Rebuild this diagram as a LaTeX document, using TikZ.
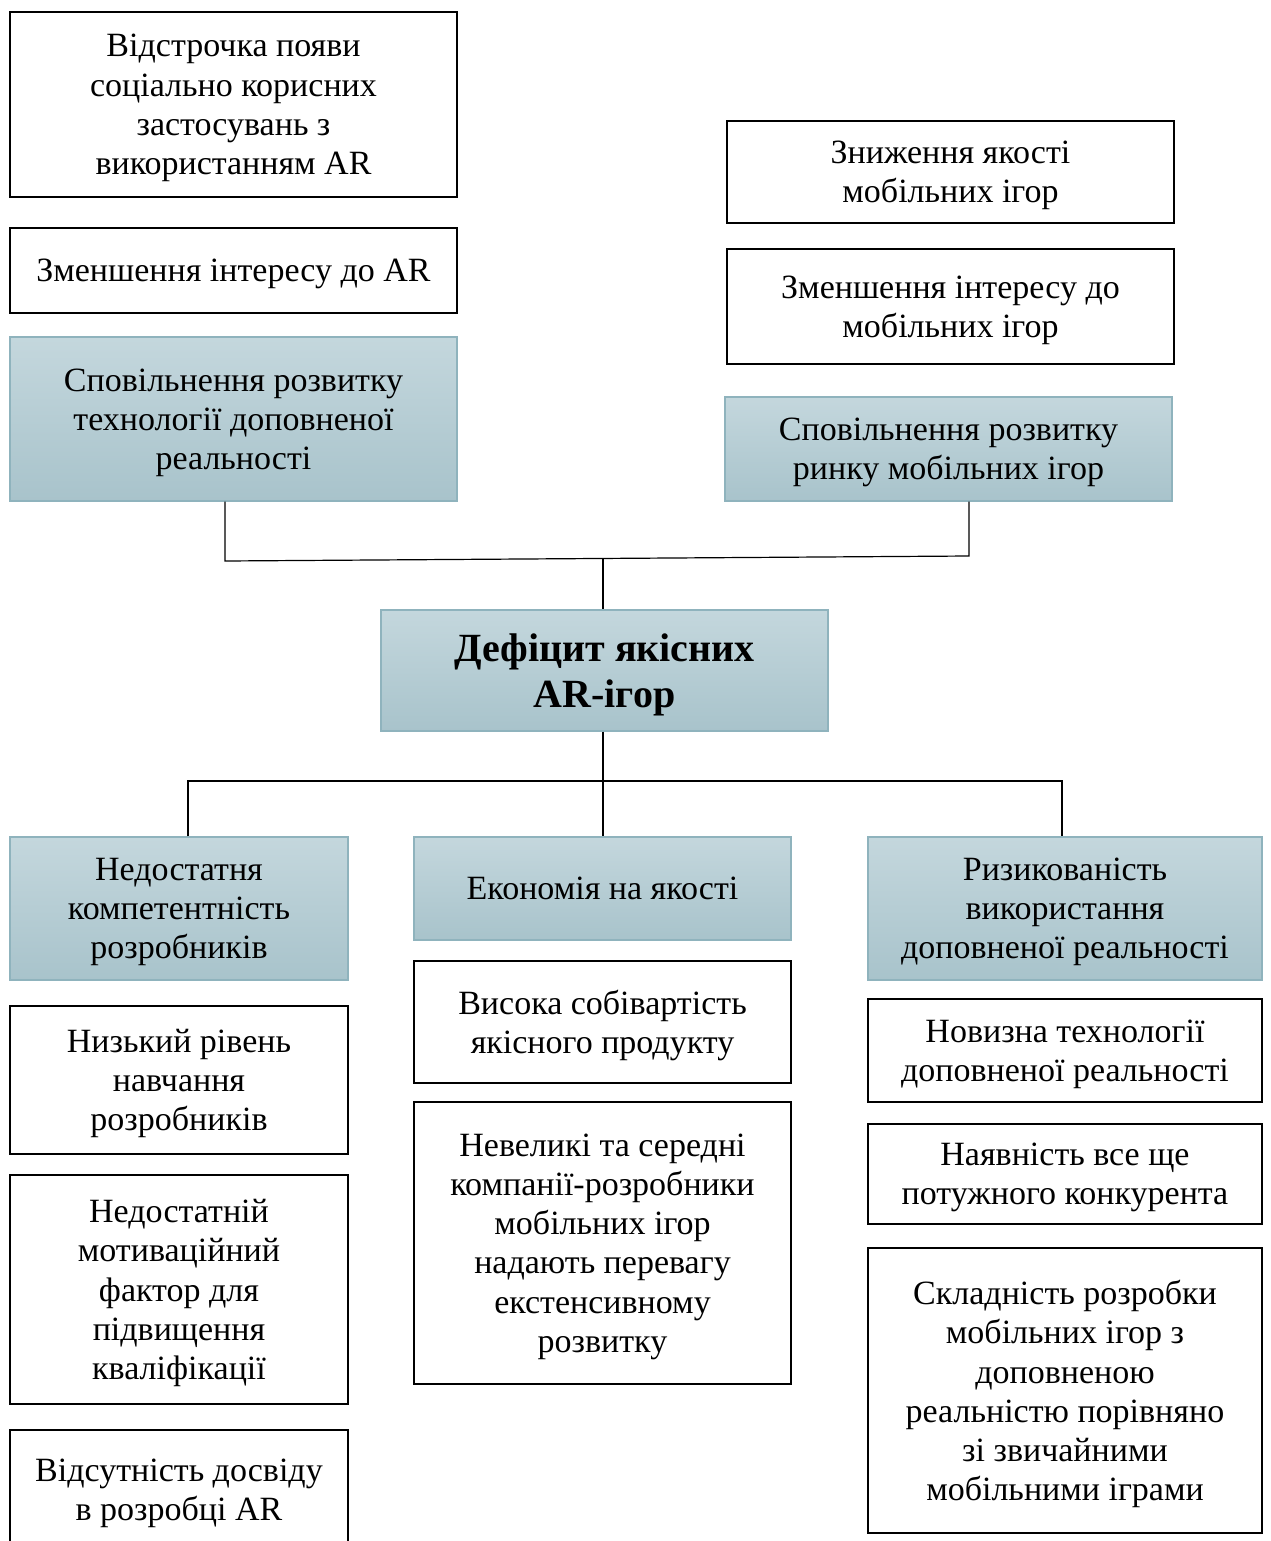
\documentclass[tikz,border=0pt]{standalone}
\usepackage{fontspec}
\setmainfont{Liberation Serif}
\usetikzlibrary{calc}
\definecolor{shadetop}{HTML}{C4D7DD}
\definecolor{shadebot}{HTML}{A8C3CB}
\definecolor{shadeedge}{HTML}{8FB3BD}
\tikzset{
  plain/.style={draw=black, line width=1pt, fill=white, align=center, inner sep=0pt,
    text depth=-2.3pt, font=\fontsize{17}{19.6}\selectfont},
  tinted/.style={draw=shadeedge, line width=0.7pt, top color=shadetop, bottom color=shadebot,
    align=center, inner sep=0pt, text depth=-2.3pt, font=\fontsize{17}{19.6}\selectfont},
  mainbox/.style={tinted, text depth=-3.6pt, font=\bfseries\fontsize{20}{23}\selectfont},
  link/.style={draw=black, line width=0.6pt}
}

\begin{document}
\begin{tikzpicture}[x=0.5pt, y=-0.5pt]
  \useasboundingbox (0,0) rectangle (1270,1541);

  % upper left
  \node[plain, minimum width=223.5pt, minimum height=92.5pt] (delayAR) at (233.5,104.5)
    {Відстрочка появи\\соціально корисних\\застосувань з\\використанням AR};
  \node[plain, minimum width=223.5pt, minimum height=42.5pt] (interestAR) at (233.5,270.5)
    {Зменшення інтересу до AR};
  \node[tinted, minimum width=223.5pt, minimum height=82pt] (slowTech) at (233.5,419)
    {Сповільнення розвитку\\технології доповненої\\реальності};

  % upper right
  \node[plain, minimum width=223.5pt, minimum height=51pt] (lowQuality) at (950.5,172)
    {Зниження якості\\мобільних ігор};
  \node[plain, minimum width=223.5pt, minimum height=57.5pt] (interestMob) at (950.5,306.5)
    {Зменшення інтересу до\\мобільних ігор};
  \node[tinted, minimum width=223.5pt, minimum height=52pt] (slowMob) at (948.5,449)
    {Сповільнення розвитку\\ринку мобільних ігор};

  \node[mainbox, minimum width=223.5pt, minimum height=60.5pt] (deficit) at (604.5,670.5)
    {Дефіцит якісних\\AR-ігор};

  % causes
  \node[tinted, minimum width=169pt, minimum height=71.5pt] (skills) at (179,908.5)
    {Недостатня\\компетентність\\розробників};
  \node[tinted, minimum width=188.5pt, minimum height=51.5pt] (economy) at (602.5,888.5)
    {Економія на якості};
  \node[tinted, minimum width=197pt, minimum height=71.5pt] (risk) at (1065,908.5)
    {Ризикованість\\використання\\доповненої реальності};

  \node[plain, minimum width=169pt, minimum height=74pt] (training) at (179,1080)
    {Низький рівень\\навчання\\розробників};
  \node[plain, minimum width=169pt, minimum height=114.5pt] (motivation) at (179,1289.5)
    {Недостатній\\мотиваційний\\фактор для\\підвищення\\кваліфікації};
  \node[plain, minimum width=169pt, minimum height=60pt] (experience) at (179,1490)
    {Відсутність досвіду\\в розробці AR};

  \node[plain, minimum width=188.5pt, minimum height=61pt] (cost) at (602.5,1022)
    {Висока собівартість\\якісного продукту};
  \node[plain, minimum width=188.5pt, minimum height=141pt] (companies) at (602.5,1243)
    {Невеликі та середні\\компанії-розробники\\мобільних ігор\\надають перевагу\\екстенсивному\\розвитку};

  \node[plain, minimum width=197pt, minimum height=51.5pt] (novelty) at (1065,1050.5)
    {Новизна технології\\доповненої реальності};
  \node[plain, minimum width=197pt, minimum height=50pt] (rival) at (1065,1174)
    {Наявність все ще\\потужного конкурента};
  \node[plain, minimum width=197pt, minimum height=142.5pt] (complexity) at (1065,1390.5)
    {Складність розробки\\мобільних ігор з\\доповненою\\реальністю порівняно\\зі звичайними\\мобільними іграми};

  % connectors
  \coordinate (busL) at (225,561);
  \coordinate (busR) at (969,556);
  \coordinate (busM) at (603,559);
  \coordinate (busB) at (603,781);
  \draw[link] ([xshift=-4.25pt]slowTech.south) -- (busL) -- (busR) -- ([xshift=10.25pt]slowMob.south);
  \draw[link] (busM) -- (deficit.north -| busM);
  \draw[link] (deficit.south -| busM) -- (economy.north -| busM);
  \draw[link] ([xshift=4.5pt]skills.north) |- (busB) -| ([xshift=-1.5pt]risk.north);
\end{tikzpicture}
\end{document}
